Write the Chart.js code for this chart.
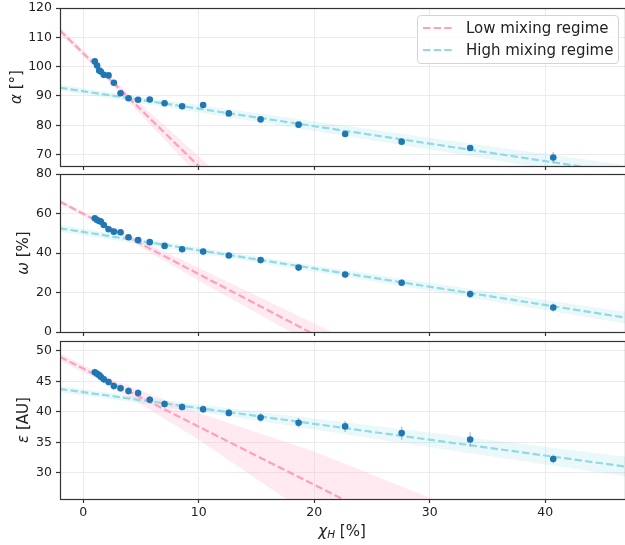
<!DOCTYPE html>
<html>
<head>
<meta charset="utf-8">
<script src="https://cdn.jsdelivr.net/npm/chart.js@4.4.0/dist/chart.umd.min.js"></script>
<style>
  body { margin: 0; background: #fff; font-family: 'DejaVu Sans', sans-serif; }
  #fig { position: relative; width: 625px; height: 545px; overflow: hidden; }
  canvas { position: absolute; left: 0; }
  .ylab { position: absolute; transform: translate(-50%, -50%) rotate(-90deg); font-size: 15px; color: #222; white-space: nowrap; }
  .xlab { position: absolute; left: 342px; top: 531px; transform: translate(-50%, -50%); font-size: 15px; color: #222; white-space: nowrap; }
  .xlab sub { font-size: 70%; vertical-align: -0.25em; }
  #legend { position: absolute; left: 417px; top: 15px; width: 200px; height: 47px; border: 1px solid #d4d4d4; border-radius: 4px; background: rgba(255,255,255,0.8); }
  #legend .row { position: absolute; left: 0; height: 20px; font-size: 15px; color: #222; line-height: 20px; white-space: nowrap; }
  #legend svg { position: absolute; left: 5px; top: 0; }
  #legend span { position: absolute; left: 48px; top: 0; }
</style>
</head>
<body>
<div id="fig">
  <canvas id="alphaChart" width="625" height="176" style="top:0px"></canvas>
  <canvas id="omegaChart" width="625" height="175" style="top:167px"></canvas>
  <canvas id="epsChart" width="625" height="211" style="top:334px"></canvas>

  <div class="ylab" style="left:16px; top:87px"><i>α</i> [°]</div>
  <div class="ylab" style="left:23px; top:253px"><i>ω</i> [%]</div>
  <div class="ylab" style="left:23px; top:420px"><i>ε</i> [AU]</div>
  <div class="xlab"><i>χ</i><sub><i>H</i></sub> [%]</div>

  <div id="legend">
    <div class="row" style="top:2px; width:200px">
      <svg width="32" height="20"><line x1="0" y1="10" x2="30" y2="10" stroke="rgb(255,158,190)" stroke-width="2.2" stroke-dasharray="7.4 3.2"/></svg>
      <span>Low mixing regime</span>
    </div>
    <div class="row" style="top:24px; width:200px">
      <svg width="32" height="20"><line x1="0" y1="10" x2="30" y2="10" stroke="rgb(143,218,228)" stroke-width="2.2" stroke-dasharray="7.4 3.2"/></svg>
      <span>High mixing regime</span>
    </div>
  </div>
</div>

<script>
  // measurements
  const chiH = [1.01, 1.21, 1.39, 1.53, 1.79, 2.2, 2.66, 3.24, 3.93, 4.76, 5.77, 7.05, 8.57, 10.39, 12.61, 15.36, 18.65, 22.68, 27.57, 33.5, 40.69];
  const alpha = [101.8, 100.4, 98.7, 98.3, 97.2, 97.0, 94.5, 90.9, 89.2, 88.7, 88.8, 87.5, 86.5, 86.9, 84.05, 82.0, 80.2, 77.0, 74.4, 72.25, 69.0];
  const alphaErr = [0.6, 0.6, 0.6, 0.6, 0.6, 0.6, 0.6, 0.6, 0.6, 0.6, 0.6, 0.6, 0.6, 0.6, 0.6, 0.7, 0.7, 0.8, 0.9, 1.0, 1.9];
  const omega = [57.6, 56.7, 56.2, 55.9, 54.2, 52.0, 50.8, 50.5, 48.0, 46.5, 45.5, 43.6, 41.9, 40.7, 38.7, 36.4, 32.6, 29.1, 24.9, 19.2, 12.4];
  const omegaErr = [0.9, 0.9, 0.9, 0.9, 0.9, 0.9, 0.9, 0.9, 0.9, 1.0, 1.0, 1.0, 1.1, 1.1, 1.1, 1.3, 1.4, 1.5, 1.6, 1.8, 2.0];
  const epsilon = [46.46, 46.23, 46.01, 45.74, 45.31, 44.87, 44.22, 43.85, 43.41, 43.08, 41.98, 41.28, 40.79, 40.41, 39.81, 39.04, 38.2, 37.6, 36.5, 35.45, 32.25];
  const epsilonErr = [0.6, 0.6, 0.6, 0.6, 0.6, 0.6, 0.6, 0.6, 0.6, 0.6, 0.6, 0.6, 0.6, 0.6, 0.6, 0.7, 0.8, 0.9, 1.1, 1.2, 0.7];

  // linear fits, given at both ends of the x range
  const fitX = [-2, 47];
  const alphaLowFit = [112.3, -76.4];
  const alphaHighFit = [92.8, 63.6];
  const omegaLowFit = [66.0, -83.7];
  const omegaHighFit = [52.5, 7.2];
  const epsLowFit = [49.0, 2.3];
  const epsHighFit = [43.73, 31.0];

  // confidence bands of the fits
  const bandX = [-2, 2.5, 10, 20, 30, 47];
  const alphaLowLo = [111.1, 94.0, 62.8, 20.6, -21.9, -93.4];
  const alphaLowHi = [113.5, 96.0, 69.4, 34.6, 0.1, -59.4];
  const alphaHighLo = [91.8, 89.1, 84.35, 78.0, 71.7, 60.8];
  const alphaHighHi = [93.8, 91.1, 86.95, 81.4, 75.7, 66.4];
  const omegaLowLo = [65.0, 51.25, 26.1, -6.7, -40.2, -97.2];
  const omegaLowHi = [67.0, 53.25, 32.5, 4.3, -23.2, -70.2];
  const omegaHighLo = [50.7, 46.7, 39.9, 30.5, 20.9, 4.2];
  const omegaHighHi = [54.3, 49.9, 42.9, 33.7, 24.9, 10.2];
  const epsLowLo = [48.4, 44.1, 35.4, 22.6, 11.1, -8.3];
  const epsLowHi = [49.6, 45.3, 39.8, 33.5, 25.9, 12.9];
  const epsHighLo = [43.2, 42.05, 40.0, 37.1, 34.2, 29.4];
  const epsHighHi = [44.25, 43.05, 41.2, 38.9, 36.6, 32.6];

  const xTicks = [0, 10, 20, 30, 40];

  const PINK = 'rgb(255,158,190)';
  const PINK_BAND = 'rgba(255,170,200,0.25)';
  const CYAN = 'rgb(143,218,228)';
  const CYAN_BAND = 'rgba(140,215,228,0.18)';
  const DOTS = '#1f77b4';
  const GRID = '#ebebeb';
  const INK = '#222';

  const xy = (xs, ys) => xs.map((x, i) => ({ x: x, y: ys[i] }));

  // vertical error bars, drawn just before the markers
  const errorBars = {
    id: 'errorBars',
    beforeDatasetDraw(chart, args) {
      const ds = chart.data.datasets[args.index];
      if (!ds.errors) return;
      const { ctx, chartArea, scales: { x, y } } = chart;
      ctx.save();
      ctx.beginPath();
      ctx.rect(chartArea.left, chartArea.top, chartArea.width, chartArea.height);
      ctx.clip();
      ctx.strokeStyle = 'rgba(150,150,150,0.55)';
      ctx.lineWidth = 1.5;
      ds.data.forEach((p, i) => {
        const px = x.getPixelForValue(p.x);
        ctx.beginPath();
        ctx.moveTo(px, y.getPixelForValue(p.y - ds.errors[i]));
        ctx.lineTo(px, y.getPixelForValue(p.y + ds.errors[i]));
        ctx.stroke();
      });
      ctx.restore();
    }
  };

  // axes frame on all four sides
  const frame = {
    id: 'frame',
    afterDraw(chart) {
      const { ctx, chartArea: a } = chart;
      ctx.save();
      ctx.strokeStyle = '#333';
      ctx.lineWidth = 1.2;
      ctx.strokeRect(Math.round(a.left) + 0.5, Math.round(a.top) + 0.5,
                     Math.round(a.width), Math.round(a.height));
      ctx.restore();
    }
  };

  function makePanel(id, p) {
    const ctx = document.getElementById(id).getContext('2d');
    const line = (data, color) => ({
      data: data, showLine: true, borderColor: color, borderWidth: 2.2,
      borderDash: [7.4, 3.2], pointRadius: 0, fill: false, order: 1
    });
    const band = (data, fillTo, color) => ({
      data: data, showLine: true, borderColor: 'transparent', borderWidth: 0,
      pointRadius: 0, fill: fillTo === null ? false : { target: fillTo },
      backgroundColor: color, order: 2
    });
    return new Chart(ctx, {
      type: 'line',
      data: {
        datasets: [
          band(xy(bandX, p.lowLo), null, PINK_BAND),
          band(xy(bandX, p.lowHi), 0, PINK_BAND),
          band(xy(bandX, p.highLo), null, CYAN_BAND),
          band(xy(bandX, p.highHi), 2, CYAN_BAND),
          line(xy(fitX, p.lowFit), PINK),
          line(xy(fitX, p.highFit), CYAN),
          {
            data: xy(chiH, p.values), errors: p.errors, showLine: false,
            pointRadius: 3.3, pointBackgroundColor: DOTS, pointBorderWidth: 0,
            order: 0
          }
        ]
      },
      options: {
        responsive: false,
        devicePixelRatio: 1,
        animation: false,
        layout: { autoPadding: false, padding: { top: p.padTop, left: 0, right: 0, bottom: 0 } },
        plugins: { legend: { display: false }, tooltip: { enabled: false } },
        elements: { line: { tension: 0 } },
        scales: {
          x: {
            type: 'linear', min: -2, max: 46.9,
            afterBuildTicks: s => { s.ticks = xTicks.map(v => ({ value: v })); },
            ticks: { display: p.showX, color: INK, padding: 3,
                     font: { family: 'DejaVu Sans', size: 12.5, lineHeight: 1 } },
            grid: { color: GRID, lineWidth: 1, drawTicks: true, tickLength: 4, tickColor: '#333', tickWidth: 1.2 },
            border: { display: false },
            afterFit: s => { s.height = p.xHeight; s.paddingLeft = 0; s.paddingRight = 0; }
          },
          y: {
            type: 'linear', min: p.yMin, max: p.yMax,
            afterBuildTicks: s => { s.ticks = p.yTicks.map(v => ({ value: v })); },
            ticks: { color: INK, padding: 4,
                     font: { family: 'DejaVu Sans', size: 12.5, lineHeight: 1 } },
            grid: { color: GRID, lineWidth: 1, drawTicks: true, tickLength: 4, tickColor: '#333', tickWidth: 1.2 },
            border: { display: false },
            afterFit: s => { s.width = 60; s.paddingTop = 0; s.paddingBottom = 0; }
          }
        }
      },
      plugins: [errorBars, frame]
    });
  }

  makePanel('alphaChart', {
    values: alpha, errors: alphaErr,
    lowFit: alphaLowFit, highFit: alphaHighFit,
    lowLo: alphaLowLo, lowHi: alphaLowHi, highLo: alphaHighLo, highHi: alphaHighHi,
    yMin: 66.1, yMax: 120, yTicks: [70, 80, 90, 100, 110, 120],
    showX: false, padTop: 8, xHeight: 10
  });

  makePanel('omegaChart', {
    values: omega, errors: omegaErr,
    lowFit: omegaLowFit, highFit: omegaHighFit,
    lowLo: omegaLowLo, lowHi: omegaLowHi, highLo: omegaHighLo, highHi: omegaHighHi,
    yMin: 0, yMax: 80, yTicks: [0, 20, 40, 60, 80],
    showX: false, padTop: 7, xHeight: 10
  });

  makePanel('epsChart', {
    values: epsilon, errors: epsilonErr,
    lowFit: epsLowFit, highFit: epsHighFit,
    lowLo: epsLowLo, lowHi: epsLowHi, highLo: epsHighLo, highHi: epsHighHi,
    yMin: 25.7, yMax: 51.6, yTicks: [30, 35, 40, 45, 50],
    showX: true, padTop: 7, xHeight: 46
  });
</script>
</body>
</html>
